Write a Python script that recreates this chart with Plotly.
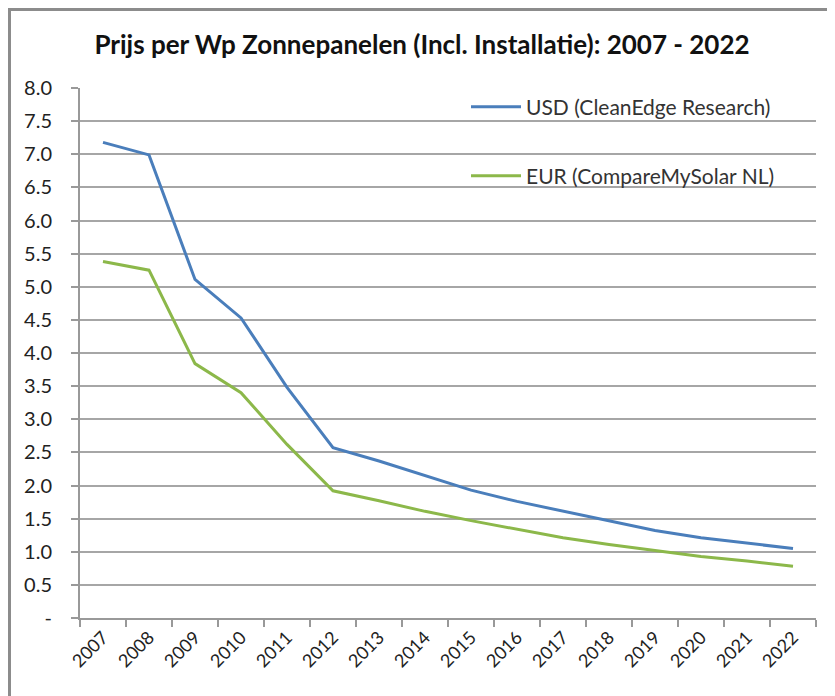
import plotly.graph_objects as go

years = [str(y) for y in range(2007, 2023)]
usd = [7.18, 6.99, 5.11, 4.53, 3.48, 2.57, 2.37, 2.15, 1.93, 1.76, 1.61, 1.46, 1.32, 1.21, 1.13, 1.05]
eur = [5.38, 5.25, 3.84, 3.40, 2.62, 1.92, 1.77, 1.61, 1.47, 1.34, 1.21, 1.11, 1.02, 0.93, 0.86, 0.78]
ytick_vals = [i * 0.5 for i in range(17)]
ytick_text = ["-"] + [f"{v:.1f}" for v in ytick_vals[1:]]

# the page body adds an 8px offset; work in screen pixels and subtract it
OFF = 8
W, H = 835 - OFF, 696 - OFF
PL, PR, PT, PB = 80, 816, 88, 618  # plot area in screen pixels
L, T = PL - OFF, PT - OFF
R, B = W - (PR - OFF), H - (PB - OFF)
pw, ph = W - L - R, H - T - B

def px_x(x):
    return (x - OFF - L) / pw

def px_y(y):
    return 1 - (y - OFF - T) / ph

fnt = "Lato"
fig = go.Figure()
fig.add_trace(go.Scatter(x=years, y=usd, mode="lines", name="USD (CleanEdge Research)",
                         line=dict(color="#4a7ebb", width=3), legend="legend"))
fig.add_trace(go.Scatter(x=years, y=eur, mode="lines", name="EUR (CompareMySolar NL)",
                         line=dict(color="#8cb84a", width=3), legend="legend2"))

leg_common = dict(bgcolor="rgba(0,0,0,0)", font=dict(family=fnt, size=21, color="#333"),
                  xanchor="left", yanchor="middle", itemwidth=50)
fig.update_layout(
    width=W, height=H, showlegend=True,
    margin=dict(l=L, r=R, t=T, b=B, autoexpand=False),
    paper_bgcolor="white", plot_bgcolor="white",
    title=dict(text="<b>Prijs per Wp Zonnepanelen (Incl. Installatie): 2007 - 2022</b>",
               x=px_x(422), xanchor="center", xref="paper", y=1 - (45 - OFF) / H, yanchor="middle",
               font=dict(family=fnt, size=26, color="#111")),
    legend=dict(x=px_x(466), y=px_y(107), **leg_common),
    legend2=dict(x=px_x(466), y=px_y(176), **leg_common),
    xaxis=dict(type="category", tickson="boundaries", showgrid=False,
               showline=True, linecolor="#999", linewidth=2,
               ticks="outside", ticklen=7, tickcolor="#999", tickwidth=2,
               tickangle=-45, tickfont=dict(family=fnt, size=18, color="#222"),
               range=[-0.5, len(years) - 0.5]),
    yaxis=dict(range=[0, 8], tickvals=ytick_vals, ticktext=ytick_text,
               showgrid=True, gridcolor="#a6a6a6", gridwidth=2,
               showline=True, linecolor="#999", linewidth=2,
               ticks="outside", ticklen=7, tickcolor="#999", tickwidth=2, ticklabelstandoff=15,
               tickfont=dict(family=fnt, size=20, color="#222"), zeroline=False),
    shapes=[
        dict(type="line", xref="paper", yref="paper", x0=px_x(OFF), x1=px_x(835), y0=px_y(OFF + 1.5), y1=px_y(OFF + 1.5),
             line=dict(color="#8c8c8c", width=3)),
        dict(type="line", xref="paper", yref="paper", x0=px_x(OFF + 1.5), x1=px_x(OFF + 1.5), y0=px_y(OFF), y1=px_y(696),
             line=dict(color="#8c8c8c", width=3)),
    ],
)
fig.write_html("out.html")
